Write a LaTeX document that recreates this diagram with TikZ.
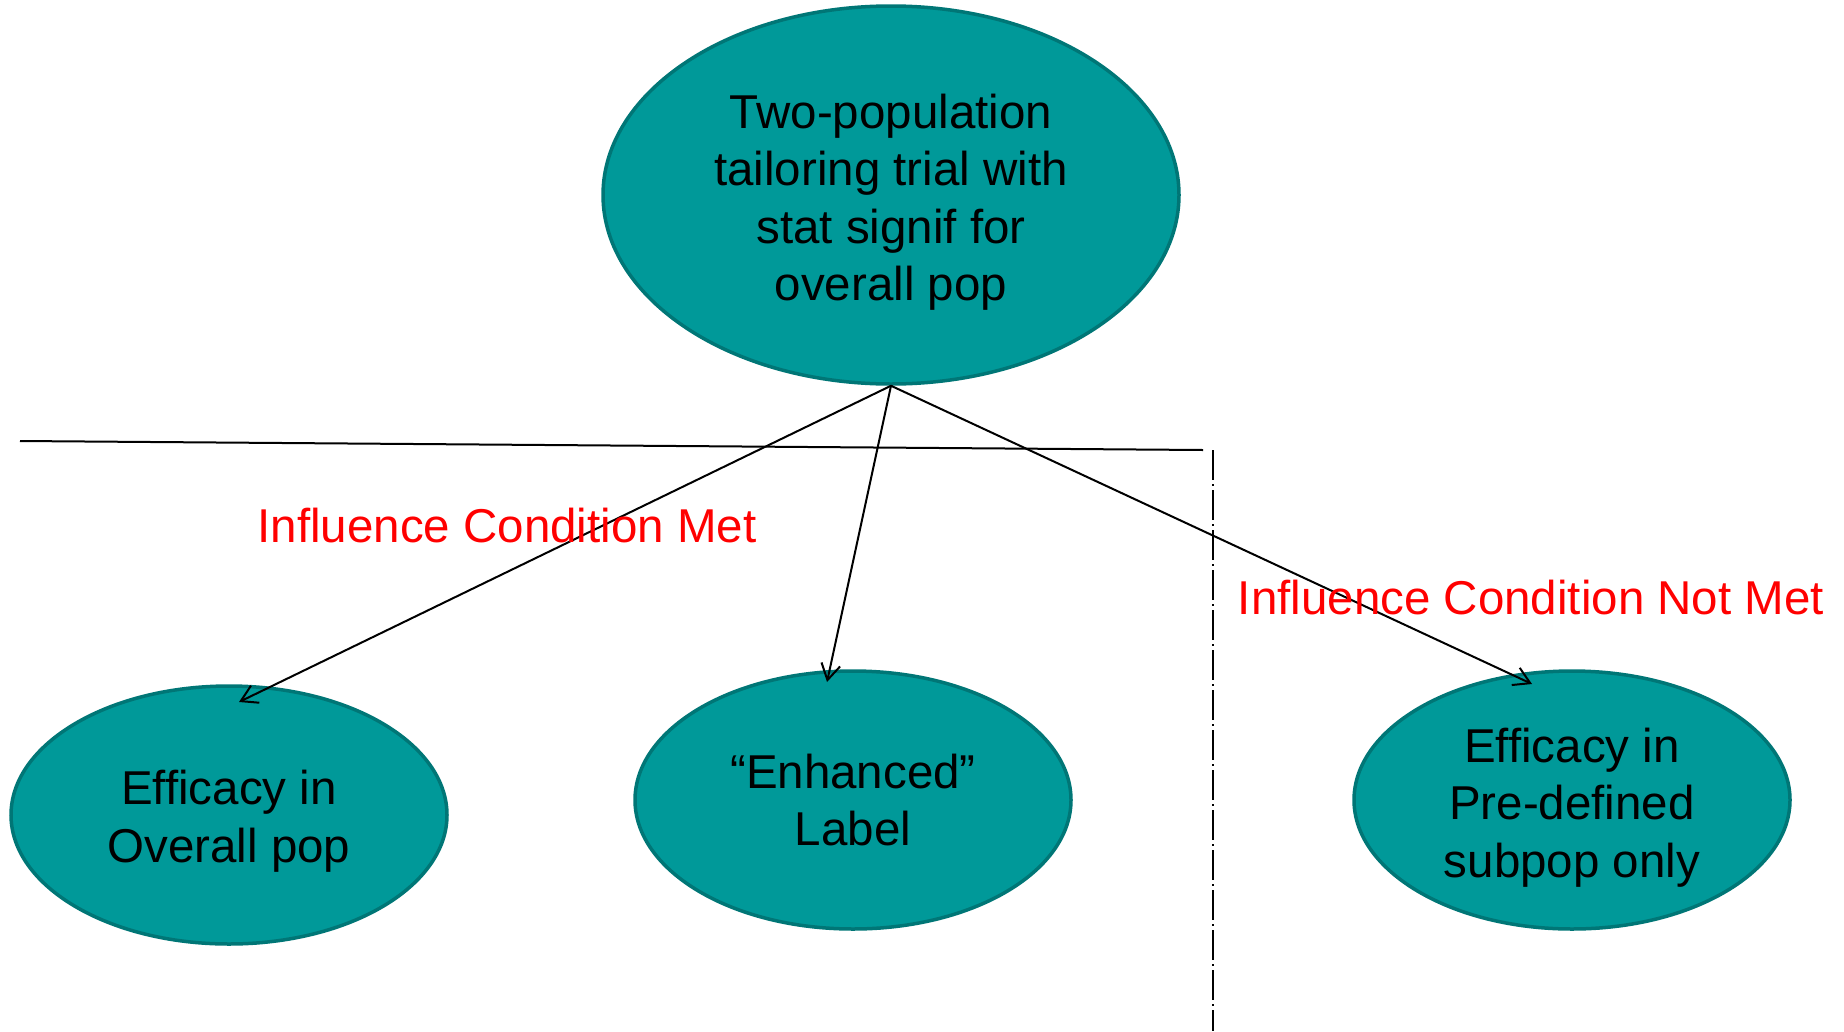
\documentclass[tikz,border=0pt]{standalone}
\usepackage{fontspec}
\setmainfont{Liberation Sans}
\usetikzlibrary{shapes.geometric,arrows.meta}
\definecolor{tealfill}{RGB}{0,153,153}
\definecolor{tealedge}{RGB}{0,118,118}
\definecolor{lblred}{RGB}{255,0,0}
\newcommand{\upstrut}[1]{\rule{0pt}{#1}}
\begin{document}
\begin{tikzpicture}[x=1pt,y=-1pt,
  bubble/.style={ellipse,draw=tealedge,fill=tealfill,line width=3.5pt,inner sep=0pt,
    align=center,text=black,font=\fontsize{47.5}{57.5}\selectfont},
  conn/.style={line width=2pt,-{Straight Barb[length=16pt,width=19pt,line width=2pt]}},
  lbl/.style={text=lblred,font=\fontsize{47.5}{57.5}\selectfont,inner sep=0pt}]
\useasboundingbox (0,0) rectangle (1844,1031);
\node[bubble,minimum width=576pt,minimum height=378pt] (top) at (891,195)
  {\upstrut{49pt}Two-population\\tailoring trial with\\stat signif for\\overall pop};
\node[bubble,minimum width=436pt,minimum height=258pt] (left) at (229,815)
  {\upstrut{47pt}Efficacy in\\Overall pop};
\node[bubble,minimum width=436pt,minimum height=258pt] (mid) at (853,800)
  {“Enhanced”\\Label};
\node[bubble,minimum width=436pt,minimum height=258pt] (right) at (1572,800)
  {\upstrut{49pt}Efficacy in\\Pre-defined\\subpop only};
\coordinate (tipL) at (239,702);
\coordinate (tipM) at (827,682);
\coordinate (tipR) at (1532,684);
\coordinate (hA) at (20,441);
\coordinate (hB) at (1203,450);
\coordinate (vA) at (1213,450);
\coordinate (vB) at (1213,1031);
\draw[line width=2pt] (hA) -- (hB);
\draw[line width=2pt,dash pattern=on 30pt off 4pt on 2pt off 4pt] (vA) -- (vB);
\draw[conn] (top.south) -- (tipL);
\draw[conn] (top.south) -- (tipM);
\draw[conn] (top.south) -- (tipR);
\node[lbl] (met) at (507,526) {Influence Condition Met};
\node[lbl] (notmet) at (1531,598) {Influence Condition Not Met};
\end{tikzpicture}
\end{document}
